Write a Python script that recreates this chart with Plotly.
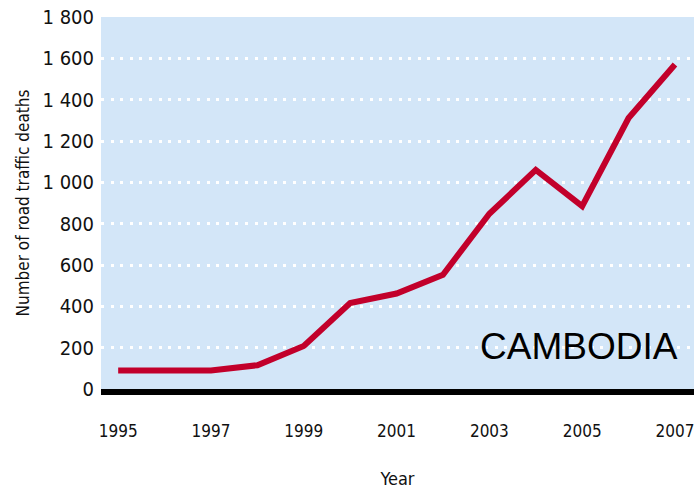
import plotly.graph_objects as go

years = [1995, 1996, 1997, 1998, 1999, 2000, 2001, 2002, 2003, 2004, 2005, 2006, 2007]
deaths = [90, 90, 90, 115, 208, 416, 462, 553, 848, 1060, 885, 1311, 1570]
y_ticks = [0, 200, 400, 600, 800, 1000, 1200, 1400, 1600, 1800]
y_tick_labels = ["0", "200", "400", "600", "800", "1 000", "1 200", "1 400", "1 600", "1 800"]
x_ticks = [1995, 1997, 1999, 2001, 2003, 2005, 2007]
x_tick_labels = ["1995", "1997", "1999", "2001", "2003", "2005", "2007"]

font_cond = "DejaVu Sans Condensed, sans-serif"

fig = go.Figure()
fig.add_trace(go.Scatter(x=years, y=deaths, mode="lines",
                         line=dict(color="#C2002B", width=6),
                         hoverinfo="x+y"))

fig.update_layout(
    width=694, height=489,
    margin=dict(l=101, r=0, t=17, b=100),
    paper_bgcolor="white",
    plot_bgcolor="#D3E6F8",
    showlegend=False,
    font=dict(family=font_cond, color="#111111", size=18),
    xaxis=dict(range=[1994.63, 2007.41], tickvals=x_ticks, ticktext=x_tick_labels,
               showgrid=False, zeroline=False, showline=True, linecolor="black",
               linewidth=6, ticks="", ticklabelstandoff=22, ticklabeloverflow="allow",
               tickfont=dict(size=17),
               title=dict(text="Year", font=dict(size=18), standoff=34)),
    yaxis=dict(range=[0, 1800], tickvals=y_ticks, ticktext=y_tick_labels,
               showgrid=True, gridcolor="white", gridwidth=3, griddash="3px,6.6px",
               zeroline=False, showline=False, ticks="", ticklabelstandoff=6,
               ticklabeloverflow="allow",
               tickfont=dict(size=20),
               title=dict(text="Number of road traffic deaths", font=dict(size=17), standoff=8)),
)

fig.add_annotation(xref="paper", yref="paper", x=0.976, y=0.115,
                   xanchor="right", yanchor="middle", showarrow=False,
                   text="CAMBODIA",
                   font=dict(family="Liberation Sans, Arial, sans-serif", size=37, color="black"))

fig.write_html("out.html",
               config={"displayModeBar": False},
               post_script="document.body.style.margin='0';"
                           "document.documentElement.style.overflow='hidden';")
